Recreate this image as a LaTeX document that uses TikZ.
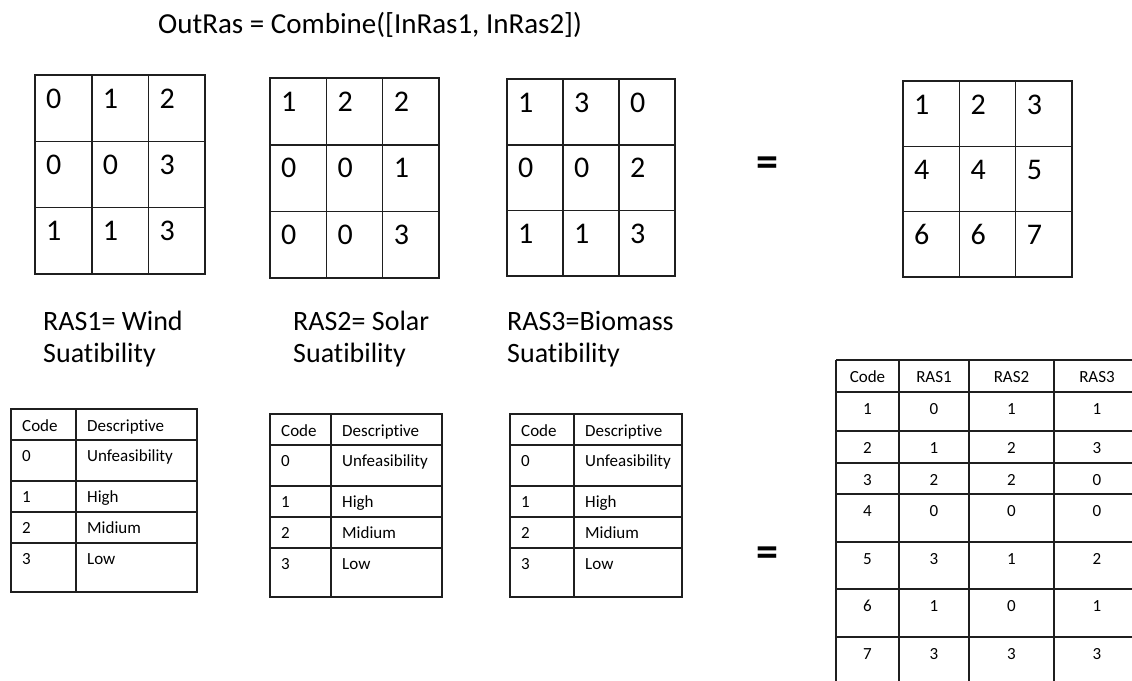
\documentclass[tikz,border=0pt]{standalone}
\usepackage{fontspec}
\setmainfont{Carlito}[Ligatures=NoCommon,RawFeature={-liga}]
\tikzset{
  gridline/.style={line width=1.6pt, black!88},
  tabline/.style={line width=1.6pt, black!88},
  cellnum/.style={anchor=base west, inner sep=0pt, font=\fontsize{30}{36}\selectfont},
  tabtext/.style={anchor=base west, inner sep=0pt, font=\fontsize{17}{20}\selectfont},
  tabmid/.style={anchor=base, inner sep=0pt, font=\fontsize{17}{20}\selectfont},
  captext/.style={anchor=base west, inner sep=0pt, font=\fontsize{28}{32}\selectfont},
  titletext/.style={anchor=base west, inner sep=0pt, font=\fontsize{29}{34}\selectfont},
  eqsign/.style={inner sep=0pt, font=\fontsize{44}{48}\selectfont\bfseries},
}
% 3x3 raster: #1 name, #2 left, #3 top, #4 cell width, #5 cell height, #6 values
\newcommand\rastergrid[6]{%
  \draw[gridline] (#2,#3) rectangle ++(3*#4,3*#5);
  \foreach \i in {1,2}{
    \draw[gridline] (#2+\i*#4,#3) -- ++(0,3*#5);
    \draw[gridline] (#2,#3+\i*#5) -- ++(3*#4,0);
  }
  \foreach \v [count=\k from 0] in {#6}{
    \pgfmathtruncatemacro\rr{div(\k,3)}
    \pgfmathtruncatemacro\cc{mod(\k,3)}
    \node[cellnum] (#1-\k) at (#2+\cc*#4+11,#3+\rr*#5+33) {\v};
  }
}
% code/description legend: #1 name, #2 left, #3 divider, #4 right, #5 top
\newcommand\legendtable[5]{%
  \draw[tabline] (#2,#5) rectangle (#4,#5+183);
  \draw[tabline] (#3,#5) -- (#3,#5+183);
  \foreach \d in {31,72,103,134}
    \draw[tabline] (#2,#5+\d) -- (#4,#5+\d);
  \node[tabtext] (#1-ch) at (#2+11,#5+22) {Code};
  \node[tabtext] (#1-dh) at (#3+11,#5+22) {Descriptive};
  \node[tabtext] (#1-c0) at (#2+11,#5+52) {0};
  \node[tabtext] (#1-d0) at (#3+11,#5+52) {Unfeasibility};
  \node[tabtext] (#1-c1) at (#2+11,#5+93) {1};
  \node[tabtext] (#1-d1) at (#3+11,#5+93) {High};
  \node[tabtext] (#1-c2) at (#2+11,#5+124) {2};
  \node[tabtext] (#1-d2) at (#3+11,#5+124) {Midium};
  \node[tabtext] (#1-c3) at (#2+11,#5+155) {3};
  \node[tabtext] (#1-d3) at (#3+11,#5+155) {Low};
}
\begin{document}
\begin{tikzpicture}[x=1pt,y=-1pt]
  \useasboundingbox (0,0) rectangle (1132,680);
  \clip (0,0) rectangle (1132,680);

  \node[titletext] (title) at (158,33) {OutRas = Combine([InRas1, InRas2])};

  % input rasters and the combined output
  \rastergrid{wind}{35}{75}{56.7}{66.3}{0,1,2,0,0,3,1,1,3}
  \rastergrid{solar}{270}{78}{56.3}{66.7}{1,2,2,0,0,1,0,0,3}
  \rastergrid{biomass}{507}{79}{56}{65.7}{1,3,0,0,0,2,1,1,3}
  \rastergrid{out}{903}{81}{56.3}{65.3}{1,2,3,4,4,5,6,6,7}
  \node[eqsign] (eqtop) at (767,167) {=};

  % captions
  \node[captext] (cap1a) at (43,330) {RAS1= Wind};
  \node[captext] (cap1b) at (43,362) {Suatibility};
  \node[captext] (cap2a) at (293,330) {RAS2= Solar};
  \node[captext] (cap2b) at (293,362) {Suatibility};
  \node[captext] (cap3a) at (507,330) {RAS3=Biomass};
  \node[captext] (cap3b) at (507,362) {Suatibility};

  % legends
  \legendtable{lwind}{11}{76}{197}{409}
  \legendtable{lsolar}{270}{331}{442}{414}
  \legendtable{lbio}{510}{574}{682}{414}

  \node[eqsign] (eqbot) at (767,557) {=};

  % attribute table of the output raster
  \foreach \yy in {360,392,431,463,494,542,589,637,685}
    \draw[tabline] (836,\yy) -- (1145,\yy);
  \foreach \xx in {836,899,969,1054,1140}
    \draw[tabline] (\xx,360) -- (\xx,685);
  \def\colx{{867.5,934,1011.5,1097}}
  \foreach \row [count=\r from 0] in {{Code,RAS1,RAS2,RAS3},{1,0,1,1},{2,1,2,3},{3,2,2,0},{4,0,0,0},{5,3,1,2},{6,1,0,1},{7,3,3,3}}{
    \pgfmathsetmacro\rowtop{{360,392,431,463,494,542,589,637}[\r]}
    \foreach \cell [count=\c from 0] in \row{
      \pgfmathsetmacro\cx{\colx[\c]}
      \node[tabmid] (attr-\r-\c) at (\cx,\rowtop+22) {\cell};
    }
  }
\end{tikzpicture}
\end{document}
